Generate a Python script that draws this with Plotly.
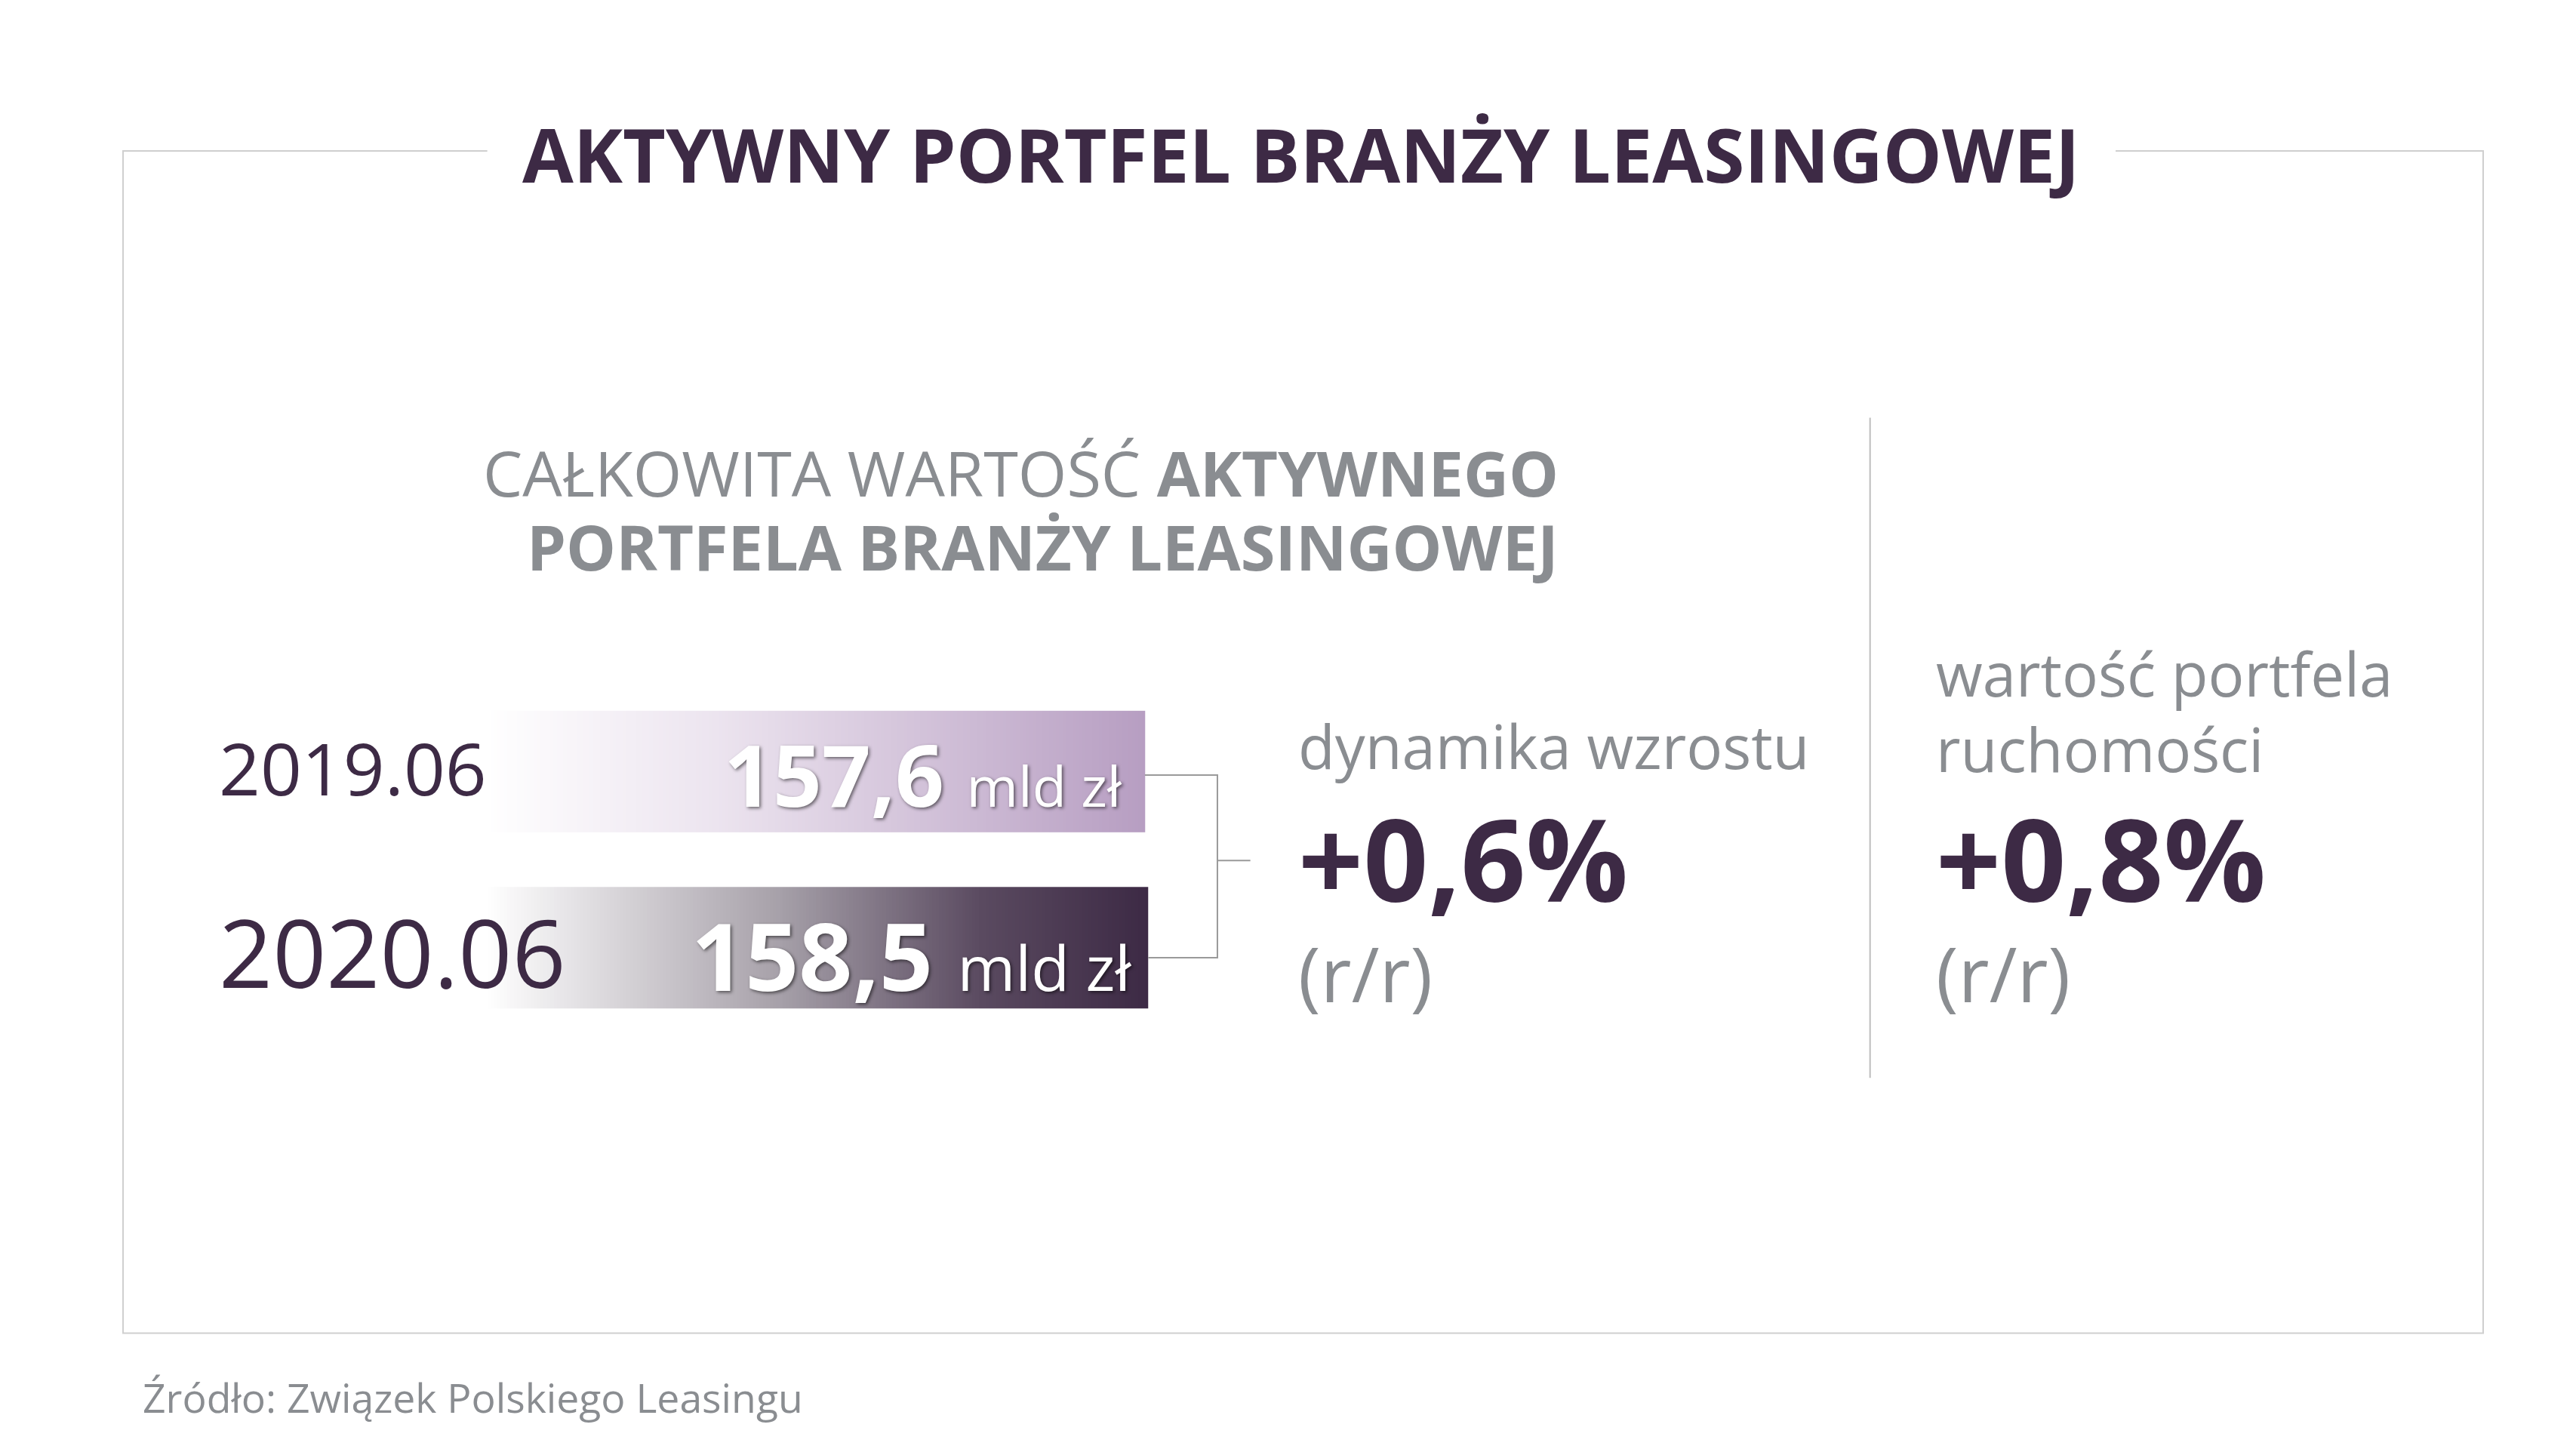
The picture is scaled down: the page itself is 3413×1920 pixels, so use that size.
import numpy as np
import plotly.graph_objects as go

# data
periods = ["2019.06", "2020.06"]
values = ["157,6", "158,5"]
unit = "mld zł"
growth_total = "+0,6%"
growth_movables = "+0,8%"

W, H = 3413, 1920
S = W / 1563.0  # design drawn at 1563 px width
DARK = "#3d2a45"
GRAY = "#8a8d91"
FONT = "Open Sans"

fig = go.Figure()

# gradient bars via heatmaps
bars = [
    dict(x0=290, x1=691, y0=428, y1=502, cs=[[0, "rgba(255,255,255,1)"], [0.35, "#ece4ef"], [1, "#b79ec2"]]),
    dict(x0=290, x1=693, y0=535, y1=609, cs=[[0, "rgba(255,255,255,1)"], [0.45, "#a59fa8"], [0.75, "#5a4a60"], [1, DARK]]),
]
N = 200
for b in bars:
    xs = np.linspace(b["x0"], b["x1"], N + 1)
    fig.add_trace(go.Heatmap(z=[np.linspace(0, 1, N)], x=xs, y=[b["y0"], b["y1"]],
                             colorscale=b["cs"], showscale=False, hoverinfo="skip", zmin=0, zmax=1))

shapes = [
    dict(type="rect", x0=71, x1=1503, y0=88, y1=806, line=dict(color="#cfcfcf", width=2), layer="below"),
    dict(type="rect", x0=292, x1=1280, y0=70, y1=110, fillcolor="white", line=dict(width=0), layer="below"),
    dict(type="line", x0=1131, x1=1131, y0=250, y1=651, line=dict(color="#bdbdbd", width=2)),
    dict(type="path", path="M 691 467 L 735 467 L 735 578 L 693 578", line=dict(color="#9a9a9a", width=2)),
    dict(type="line", x0=735, x1=755, y0=519, y1=519, line=dict(color="#9a9a9a", width=2)),
]

ann = []
def t(x, y, text, size, color, anchor="left", shadow=None):
    f = dict(family=FONT, size=size * S, color=color)
    if shadow:
        f["shadow"] = shadow
    ann.append(dict(x=x, y=y, text=text, xanchor=anchor, yanchor="middle", showarrow=False,
                    font=f, xref="x", yref="y"))

t(786, 90, "<b>AKTYWNY PORTFEL BRANŻY LEASINGOWEJ</b>", 45, DARK, "center")
t(943, 283, "CAŁKOWITA WARTOŚĆ <b>AKTYWNEGO</b>", 38, GRAY, "right")
t(943, 328, "<b>PORTFELA BRANŻY LEASINGOWEJ</b>", 38, GRAY, "right")

t(128, 462, periods[0], 44, DARK)
t(128, 574, periods[1], 57, DARK)
sh = "2px 2px 4px rgba(0,0,0,0.55)"
t(678, 466, f"<b>{values[0]}</b> <span style='font-size:{34*S:.0f}px'>{unit}</span>", 52, "white", "right", sh)
t(684, 576, f"<b>{values[1]}</b> <span style='font-size:{38*S:.0f}px'>{unit}</span>", 57, "white", "right", sh)

t(783, 449, "dynamika wzrostu", 36.5, GRAY)
t(783, 517, f"<b>{growth_total}</b>", 69, DARK)
t(783, 587, "(r/r)", 46, GRAY)

t(1170, 405, "wartość portfela", 36.5, GRAY)
t(1170, 451, "ruchomości", 36.5, GRAY)
t(1170, 517, f"<b>{growth_movables}</b>", 69, DARK)
t(1170, 587, "(r/r)", 46, GRAY)

t(82, 845, "Źródło: Związek Polskiego Leasingu", 24.5, GRAY)

fig.update_layout(width=W, height=H, margin=dict(l=0, r=0, t=0, b=0),
                  paper_bgcolor="white", plot_bgcolor="white",
                  xaxis=dict(range=[0, 1563], visible=False, fixedrange=True),
                  yaxis=dict(range=[880, 0], visible=False, fixedrange=True),
                  shapes=shapes, annotations=ann, showlegend=False)
fig.write_html("out.html")
